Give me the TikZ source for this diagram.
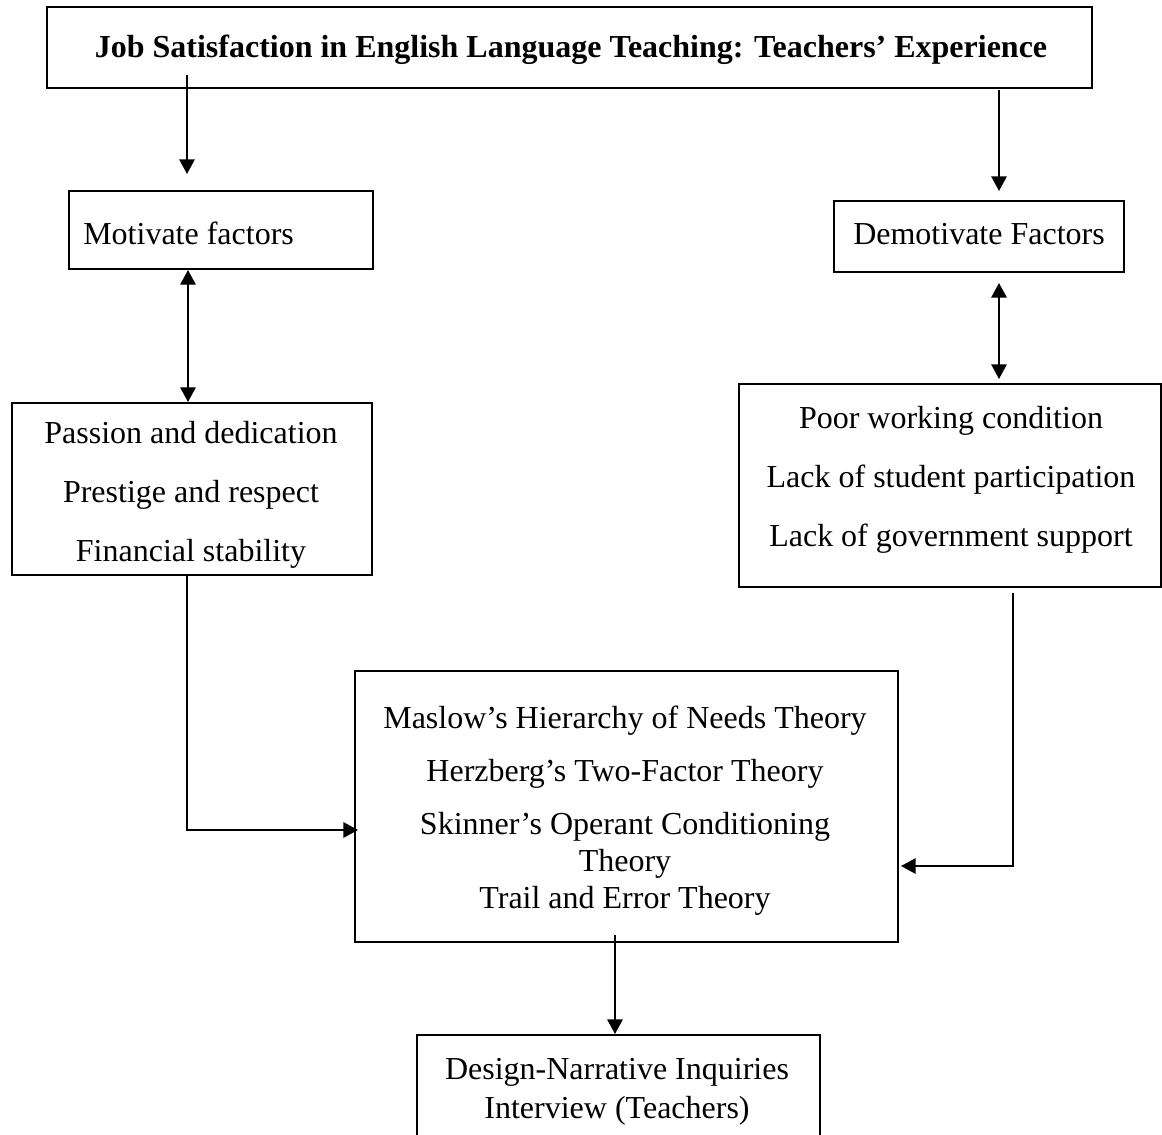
\documentclass[tikz,border=0pt]{standalone}
\usepackage{fontspec}
\setmainfont{Liberation Serif}
\usetikzlibrary{arrows.meta,calc}
\begin{document}
\begin{tikzpicture}[x=0.75pt,y=-0.75pt,
  box/.style={draw,line width=1.5pt,inner sep=0pt,rectangle},
  txt/.style={inner sep=0pt,align=center,font=\fontsize{24}{44}\selectfont},
  tip/.tip={Triangle[length=11pt,width=11.5pt]},
  arr/.style={line width=1.5pt,-tip},
  darr/.style={line width=1.5pt,tip-tip}]
\useasboundingbox (0,0) rectangle (1162,1134);
\clip (0,0) rectangle (1162,1134);
% boxes
\node[box,minimum width=783.75pt,minimum height=60.75pt] (title) at (569.5,47.5) {};
\node[box,minimum width=228pt,minimum height=58.5pt] (mot) at (221,230) {};
\node[box,minimum width=217.5pt,minimum height=53.25pt] (dem) at (979,236.5) {};
\node[box,minimum width=270pt,minimum height=129pt] (pas) at (192,489) {};
\node[box,minimum width=316.5pt,minimum height=152.25pt] (poor) at (950,485.5) {};
\node[box,minimum width=407.25pt,minimum height=203.25pt] (th) at (626.5,806.5) {};
\node[box,minimum width=302.25pt,minimum height=105pt] (bot) at (618.5,1105) {};
% texts
\node[inner sep=0pt,font=\fontsize{24}{28}\selectfont\bfseries] (ttitle) at (571,50) {Job Satisfaction in English Language Teaching: Teachers’ Experience};
\node[txt,anchor=west] (tmot) at (83,233) {Motivate factors};
\node[txt] (tdem) at (979,234) {Demotivate Factors};
\node[txt] (tpas) at (191,495) {Passion and dedication\\Prestige and respect\\Financial stability};
\node[txt] (tpoor) at (951,480) {Poor working condition\\Lack of student participation\\Lack of government support};
\node[txt,font=\fontsize{24}{27.75}\selectfont] (tth) at (625,811) {Maslow’s Hierarchy of Needs Theory\\[12pt]Herzberg’s Two-Factor Theory\\[12pt]Skinner’s Operant Conditioning\\Theory\\Trail and Error Theory};
\node[txt,font=\fontsize{24}{29.25}\selectfont] (tbot) at (617,1092) {Design-Narrative Inquiries\\Interview (Teachers)};
% connector anchors
\coordinate (s1) at (187,75);
\coordinate (s2) at (999,90);
\coordinate (c3) at (188,0);
\coordinate (c4) at (999,0);
\coordinate (c5) at (187,0);
\coordinate (e5) at (358,830);
\coordinate (s6) at (1013,593);
\coordinate (e6) at (901,866);
\coordinate (s7) at (615,935);
% connectors
\draw[arr,shorten >=12pt] (s1) -- (s1 |- mot.north);
\draw[arr,shorten >=6.75pt] (s2) -- (s2 |- dem.north);
\draw[darr] (mot.south -| c3) -- (pas.north -| c3);
\draw[darr,shorten <=7.5pt,shorten >=3pt] (dem.south -| c4) -- (poor.north -| c4);
\draw[arr] (pas.south -| c5) |- (e5);
\draw[arr] (s6) |- (e6);
\draw[arr] (s7) -- (bot.north -| s7);
\end{tikzpicture}
\end{document}
